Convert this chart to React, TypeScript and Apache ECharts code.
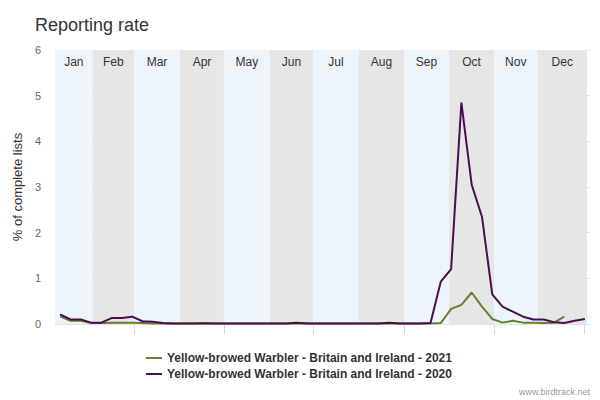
import React, { useEffect, useRef } from "react";
import * as echarts from "echarts";

const title = "Reporting rate";
const yAxisName = "% of complete lists";
const months = ["Jan", "Feb", "Mar", "Apr", "May", "Jun", "Jul", "Aug", "Sep", "Oct", "Nov", "Dec"];
// month boundaries, in weeks from the axis start
const monthEdges = [0, 3.66, 7.68, 12.15, 16.42, 20.89, 25.07, 29.54, 33.92, 38.3, 42.67, 46.9, 51.7];
const tickWeeks = [7.68, 16.42, 25.07, 33.92, 42.67, 51.42];
const yTicks = [0, 1, 2, 3, 4, 5, 6];

const series2021Name = "Yellow-browed Warbler - Britain and Ireland - 2021";
const series2020Name = "Yellow-browed Warbler - Britain and Ireland - 2020";

const rate2021: (number | null)[] = [
  0.17, 0.07, 0.07, 0.02, 0.02, 0.03, 0.03, 0.03, 0.02, 0.01,
  0.01, 0.01, 0.01, 0.01, 0.02, 0.01, 0.01, 0.01, 0.01, 0.01,
  0.01, 0.01, 0.01, 0.01, 0.01, 0.01, 0.01, 0.01, 0.01, 0.01,
  0.01, 0.01, 0.01, 0.01, 0.01, 0.01, 0.01, 0.02, 0.33, 0.42,
  0.69, 0.38, 0.11, 0.03, 0.07, 0.03, 0.03, 0.02, 0.03, 0.16,
  null, null,
];

const rate2020: number[] = [
  0.21, 0.10, 0.10, 0.03, 0.03, 0.13, 0.13, 0.16, 0.06, 0.05,
  0.02, 0.01, 0.01, 0.01, 0.01, 0.01, 0.01, 0.01, 0.01, 0.01,
  0.01, 0.01, 0.01, 0.03, 0.01, 0.01, 0.01, 0.01, 0.01, 0.01,
  0.01, 0.01, 0.03, 0.01, 0.01, 0.01, 0.02, 0.93, 1.2, 4.85,
  3.05, 2.35, 0.65, 0.38, 0.27, 0.16, 0.10, 0.10, 0.04, 0.02,
  0.07, 0.11,
];

const bandColors = ["#EDF5FB", "#E6E6E6"];
const FONT = "'Liberation Sans', Arial, sans-serif";

export default function App() {
  const ref = useRef<HTMLDivElement>(null);
  useEffect(() => {
    if (!ref.current) return;
    const chart = echarts.init(ref.current, undefined, { renderer: "svg" });
    const bands = months.map((m, i) => [
      {
        name: m,
        xAxis: monthEdges[i],
        itemStyle: { color: bandColors[i % 2] },
      },
      { xAxis: monthEdges[i + 1] },
    ]);
    const toPoints = (arr: (number | null)[]) => arr.map((v, i) => [i + 0.5, v]);
    chart.setOption({
      animation: false,
      textStyle: { fontFamily: FONT },
      title: {
        text: title,
        left: 30,
        top: 11,
        textStyle: { fontSize: 18, fontWeight: "normal", color: "#333", fontFamily: FONT },
      },
      grid: { left: 55, right: 10, top: 50, bottom: 76 },
      legend: {
        orient: "vertical",
        left: 141,
        top: 346,
        itemWidth: 16,
        itemHeight: 2,
        itemGap: 2,
        icon: "rect",
        data: [series2021Name, series2020Name],
        textStyle: { fontSize: 12, fontWeight: "bold", color: "#333", fontFamily: FONT, lineHeight: 14 },
      },
      xAxis: {
        type: "value",
        min: 0,
        max: 52,
        splitLine: { show: false },
        axisLine: { show: true, lineStyle: { color: "#CCD6EB", width: 1 } },
        axisTick: { show: true, customValues: tickWeeks, length: 10, lineStyle: { color: "#CCD6EB" } },
        axisLabel: { show: false },
      },
      yAxis: {
        type: "value",
        min: 0,
        max: 6,
        interval: 1,
        name: yAxisName,
        nameLocation: "middle",
        nameRotate: 90,
        nameGap: 30,
        nameTextStyle: { fontSize: 13, color: "#333", fontFamily: FONT },
        axisLine: { show: false },
        axisTick: { show: false },
        axisLabel: {
          color: "#666",
          fontSize: 11,
          margin: 14,
          customValues: yTicks,
          fontFamily: FONT,
        },
        splitLine: { show: true, lineStyle: { color: "#E3E3E3", width: 1 } },
        z: 1,
      },
      series: [
        {
          type: "line",
          name: "bands",
          data: [],
          z: -1,
          silent: true,
          markArea: {
            silent: true,
            label: {
              show: true,
              position: "insideTop",
              distance: 6,
              color: "#333",
              fontSize: 12,
              fontFamily: FONT,
            },
            data: bands,
          },
        },
        {
          type: "line",
          name: series2021Name,
          data: toPoints(rate2021),
          showSymbol: false,
          lineStyle: { color: "#66802F", width: 2 },
          itemStyle: { color: "#66802F" },
          z: 3,
        },
        {
          type: "line",
          name: series2020Name,
          data: toPoints(rate2020),
          showSymbol: false,
          lineStyle: { color: "#4A0E4E", width: 2 },
          itemStyle: { color: "#4A0E4E" },
          z: 4,
        },
      ],
      graphic: [
        {
          type: "text",
          right: 10,
          bottom: 4,
          style: { text: "www.birdtrack.net", fontSize: 9, fill: "#999", fontFamily: FONT },
        },
      ],
    });
    return () => chart.dispose();
  }, []);
  return (
    <div
      ref={ref}
      style={{ position: "fixed", left: 0, top: 0, width: 600, height: 400, background: "#fff" }}
    />
  );
}
